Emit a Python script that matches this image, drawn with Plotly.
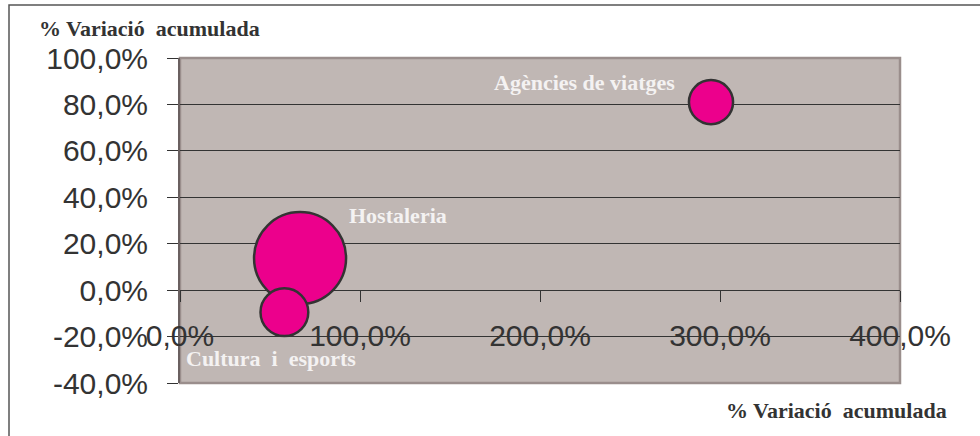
import plotly.graph_objects as go

# ---- data ----
sectors = ["Agències de viatges", "Hostaleria", "Cultura  i  esports"]
var_x = [295.0, 66.7, 58.0]        # % variació acumulada (eix X)
var_y = [81.0, 13.8, -9.5]         # % variació acumulada (eix Y)
bubble_w = [2.3, 10.0, 2.7]        # mida relativa de la bombolla

x_ticks = [0, 100, 200, 300, 400]
x_ticklabels = ["0,0%", "100,0%", "200,0%", "300,0%", "400,0%"]
y_ticks = [-40, -20, 0, 20, 40, 60, 80, 100]
y_ticklabels = ["-40,0%", "-20,0%", "0,0%", "20,0%", "40,0%", "60,0%", "80,0%", "100,0%"]
axis_title = "% Variació  acumulada"

# ---- layout geometry (pixels) ----
W, H = 980, 436
L, T = 180, 58
PR, PB = 900, 383
R, B = W - PR, H - PB
PW, PH = PR - L, PB - T

def px_x(p):
    return (p - L) / PW

def px_y(p):
    return (PB - p) / PH

xr = [x_ticks[0], x_ticks[-1]]
yr = [y_ticks[0], y_ticks[-1]]

max_d = 92
sizeref = 2 * max(bubble_w) / max_d ** 2

fig = go.Figure()
fig.add_trace(go.Scatter(
    x=var_x, y=var_y, mode="markers",
    marker=dict(size=bubble_w, sizemode="area", sizeref=sizeref,
                color="#EC008C", opacity=1,
                line=dict(color="#333333", width=2.5)),
    cliponaxis=False, hoverinfo="skip", showlegend=False,
))

label_font = dict(family="Liberation Serif", size=22, color="#F4F2F2", weight="bold")
offsets = [
    dict(xanchor="right", xshift=-34, yshift=20),
    dict(xanchor="left", xshift=47, yshift=43),
    dict(xanchor="center", xshift=-13, yshift=-46),
]
annotations = []
for name, xv, yv, off in zip(sectors, var_x, var_y, offsets):
    annotations.append(dict(x=xv, y=yv, xref="x", yref="y",
                            text=name.replace("  ", "\u00a0 "), showarrow=False,
                            font=label_font, yanchor="middle", **off))

title_font = dict(family="Liberation Serif", size=22, color="#333333", weight="bold")
annotations.append(dict(x=px_x(37), y=px_y(28), xref="paper", yref="paper",
                        text=axis_title.replace("  ", "\u00a0 "), showarrow=False,
                        xanchor="left", yanchor="middle", font=title_font))
annotations.append(dict(x=px_x(724), y=px_y(410), xref="paper", yref="paper",
                        text=axis_title.replace("  ", "\u00a0 "), showarrow=False,
                        xanchor="left", yanchor="middle", font=title_font))

tick_font = dict(family="Liberation Sans", size=30, color="#333333")

fig.update_layout(
    width=W, height=H,
    margin=dict(l=L, r=R, t=T, b=B, pad=0),
    paper_bgcolor="white", plot_bgcolor="#C0B7B4",
    showlegend=False,
    annotations=annotations,
    xaxis=dict(range=xr, tickvals=x_ticks, ticktext=x_ticklabels,
               tickfont=tick_font, showgrid=False, zeroline=False,
               showline=True, linecolor="#333333", linewidth=1.2,
               ticks="outside", ticklen=11, tickcolor="#333333", tickwidth=1,
               anchor="free", position=(0 - yr[0]) / (yr[1] - yr[0]),
               layer="below traces", ticklabelstandoff=8),
    yaxis=dict(range=yr, tickvals=y_ticks, ticktext=y_ticklabels,
               tickfont=tick_font, showgrid=True, gridcolor="#333333", gridwidth=1.2,
               zeroline=False, showline=True, linecolor="#6a6060", linewidth=2,
               ticks="outside", ticklen=11, tickcolor="#333333", tickwidth=1,
               layer="below traces", ticklabelstandoff=13),
    shapes=[
        dict(type="rect", xref="paper", yref="paper", x0=0, x1=1, y0=0, y1=1,
             line=dict(color="#9A8E8C", width=2.5), layer="below"),
        dict(type="rect", xref="paper", yref="paper",
             x0=px_x(9), x1=px_x(995), y0=px_y(450), y1=px_y(5),
             line=dict(color="#555555", width=1.5), fillcolor="rgba(0,0,0,0)",
             layer="below"),
    ],
)

fig.write_html("out.html",
               config={"displayModeBar": False, "staticPlot": True},
               post_script="document.body.style.margin='0';document.body.style.overflow='hidden';")
